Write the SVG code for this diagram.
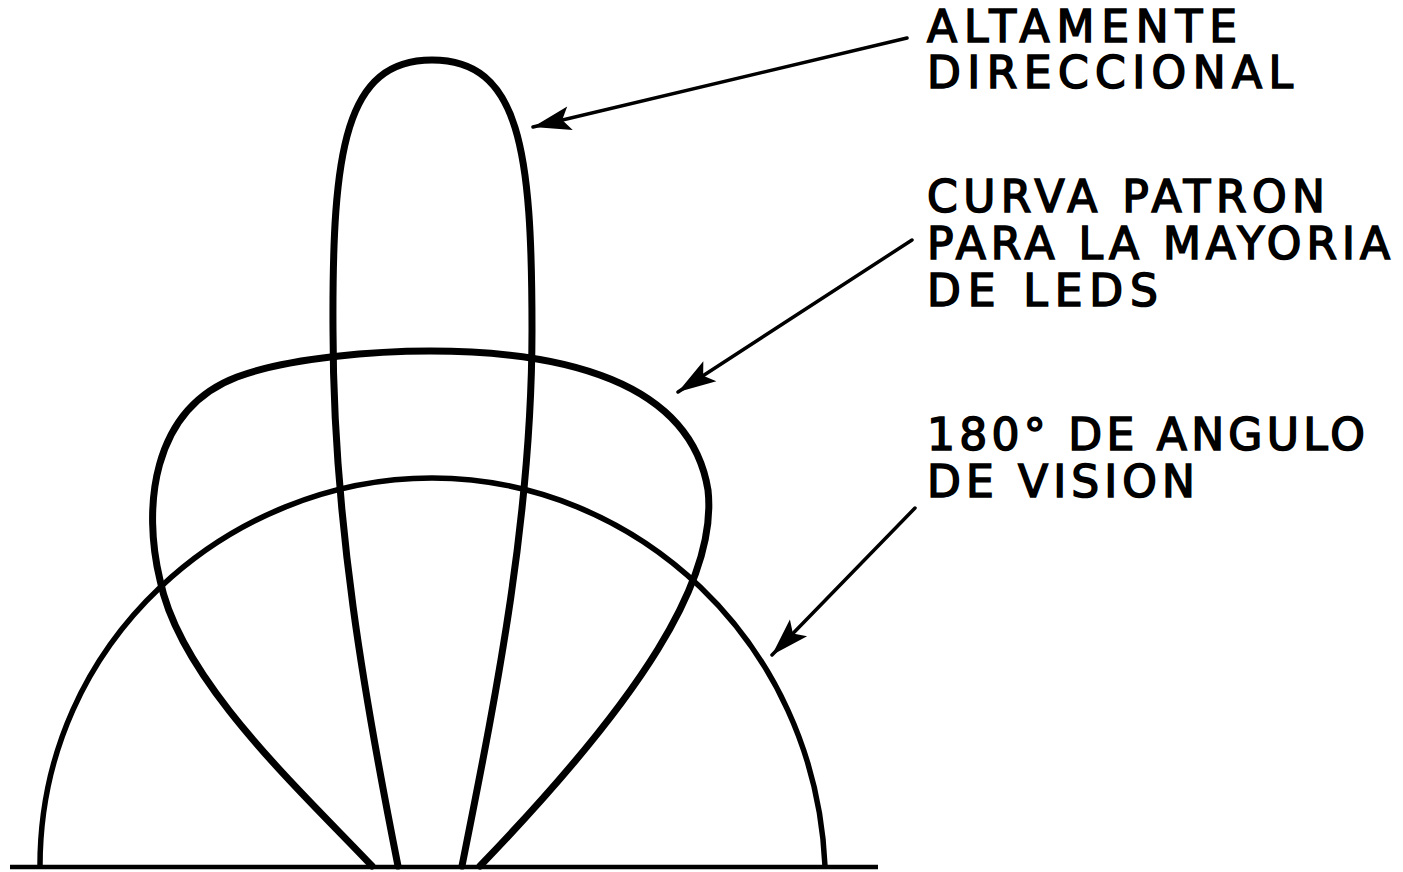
<svg xmlns="http://www.w3.org/2000/svg" width="1403" height="872" viewBox="0 0 1403 872">
<defs>
<style>
.lobe{fill:none;stroke:#000;stroke-linecap:round;stroke-linejoin:round}
.lbl{font-family:"DejaVu Sans","Liberation Sans",sans-serif;font-weight:normal;font-size:44px;fill:#000;stroke:#000;stroke-width:1.6}
.lead{fill:none;stroke:#000;stroke-width:3.5;stroke-linecap:round}
</style>
<marker id="ah" markerUnits="userSpaceOnUse" viewBox="-40 -14 42 28" refX="0" refY="0" markerWidth="42" markerHeight="28" orient="auto">
<path d="M0,0 L-38,-12 L-30,0 L-38,12 Z" fill="#000"/>
</marker>
</defs>
<rect width="1403" height="872" fill="#fff"/>
<g id="baseline">
<line x1="10" y1="867" x2="878" y2="867" stroke="#000" stroke-width="4.5"/>
</g>
<g id="vision180">
<path class="lobe" stroke-width="5.5" d="M 40 866 C 40 640 230 478 432 478 C 634 478 815 640 825 866"/>
</g>
<g id="curva-patron">
<path class="lobe" stroke-width="7" d="M 372 866 C 300 790 180 680 160 580 C 143 510 150 410 237 377 C 290 357 380 351 430 351 C 560 351 690 380 708 490 C 718 580 640 700 480 866"/>
</g>
<g id="altamente-direccional">
<path class="lobe" stroke-width="7" d="M 398 866 C 365 700 333 520 333 330 C 332 150 345 60 432 60 C 520 60 532 150 532 330 C 532 520 495 700 462 866"/>
</g>
<g id="connectors">
<line class="lead" x1="907" y1="38" x2="533" y2="127" marker-end="url(#ah)"/>
<line class="lead" x1="912" y1="240" x2="678" y2="392" marker-end="url(#ah)"/>
<line class="lead" x1="915" y1="508" x2="772" y2="655" marker-end="url(#ah)"/>
</g>
<g id="label-altamente">
<text class="lbl" x="927" y="42" textLength="310" lengthAdjust="spacing">ALTAMENTE</text>
<text class="lbl" x="927" y="88" textLength="366" lengthAdjust="spacing">DIRECCIONAL</text>
</g>
<g id="label-curva">
<text class="lbl" x="927" y="212" textLength="398" lengthAdjust="spacing">CURVA PATRON</text>
<text class="lbl" x="927" y="259" textLength="463" lengthAdjust="spacing">PARA LA MAYORIA</text>
<text class="lbl" x="927" y="306" textLength="231" lengthAdjust="spacing">DE LEDS</text>
</g>
<g id="label-vision">
<text class="lbl" x="927" y="450" textLength="438" lengthAdjust="spacing">180° DE ANGULO</text>
<text class="lbl" x="927" y="497" textLength="268" lengthAdjust="spacing">DE VISION</text>
</g>
</svg>
